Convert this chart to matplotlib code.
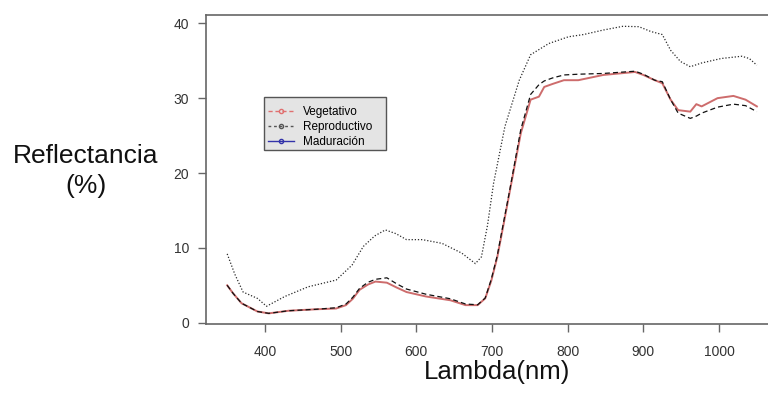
import matplotlib
matplotlib.use("Agg")
import matplotlib.pyplot as plt
import matplotlib.patches as mpatches
from matplotlib.lines import Line2D

plt.rcParams["font.family"] = ["Liberation Sans", "DejaVu Sans"]

# upper dotted curve
wl_up = [350, 360, 371, 390, 402, 426, 457, 494, 515, 530, 545, 559, 573, 587, 608, 634, 660,
         678, 686, 694, 702, 717, 736, 751, 775, 801, 821, 847, 873, 894, 910, 925,
         936, 949, 962, 977, 1003, 1030, 1040, 1050]
r_up = [9.2, 6.5, 4.1, 3.25, 2.2, 3.5, 4.8, 5.7, 7.7, 10.2, 11.6, 12.4, 11.9, 11.1, 11.1, 10.6, 9.3,
        7.9, 8.8, 13.0, 18.6, 26.2, 32.4, 35.8, 37.3, 38.2, 38.5, 39.1, 39.6, 39.55, 38.9, 38.5,
        36.4, 34.9, 34.2, 34.7, 35.3, 35.6, 35.3, 34.4]

# lower curves
wl = [350, 358, 369, 390, 405, 431, 468, 494, 507, 516, 525, 536, 546, 561, 574, 587, 613, 645, 665,
      681, 691, 699, 707, 715, 723, 738, 751, 762, 769, 780, 795, 814, 847, 889, 900, 915, 925,
      936, 946, 962, 970, 977, 998, 1019, 1035, 1050]
r_veg = [5.0, 3.9, 2.6, 1.5, 1.25, 1.6, 1.8, 1.9, 2.35, 3.2, 4.4, 5.1, 5.5, 5.35, 4.7, 4.1, 3.5, 3.0, 2.35,
         2.35, 3.25, 5.6, 8.8, 13.0, 17.3, 25.3, 29.8, 30.2, 31.5, 31.9, 32.4, 32.4, 33.1, 33.5, 33.1, 32.4, 32.0,
         29.8, 28.4, 28.2, 29.2, 28.9, 30.0, 30.3, 29.8, 28.9]
r_rep = [5.0, 3.9, 2.6, 1.5, 1.25, 1.6, 1.8, 2.0, 2.5, 3.4, 4.6, 5.4, 5.8, 6.0, 5.2, 4.5, 3.8, 3.2, 2.5,
         2.4, 3.3, 5.8, 9.0, 13.3, 17.5, 25.8, 30.5, 31.8, 32.3, 32.7, 33.1, 33.2, 33.3, 33.6, 33.2, 32.4, 32.2,
         29.8, 28.0, 27.3, 27.6, 28.0, 28.8, 29.2, 29.0, 28.2]

labels = ["Vegetativo", "Reproductivo", "Maduración"]
xticks = [400, 500, 600, 700, 800, 900, 1000]
yticks = [0, 10, 20, 30, 40]

W, H = 768, 394
fig = plt.figure(figsize=(W / 100, H / 100), dpi=100)
ax = fig.add_axes([206 / W, (H - 324.3) / H, (772 - 206) / W, (324.3 - 14.7) / H])

ax.plot(wl_up, r_up, color="#2a2a2a", lw=0.9, linestyle=(0, (1, 1.5)))
ax.plot(wl, r_veg, color="#c85c5c", lw=1.4, alpha=0.9)
ax.plot(wl, r_rep, color="#111111", lw=0.9, linestyle=(0, (4, 2.5)))

ax.set_xlim(322, 1070)
ax.set_ylim(-0.21, 41.15)
ax.set_xticks(xticks)
ax.set_yticks(yticks)
for s in ax.spines.values():
    s.set_color("#666666")
    s.set_linewidth(1.2)
ax.tick_params(axis="both", direction="out", length=6, width=1, color="#666666",
               labelsize=10, labelcolor="#333333")
ax.tick_params(axis="x", pad=9)
ax.tick_params(axis="y", pad=6)

# legend box
fig.patches.append(mpatches.Rectangle((264 / W, 1 - 150 / H), (386 - 264) / W, (150 - 97) / H,
                                      transform=fig.transFigure, facecolor="#e4e4e4",
                                      edgecolor="#555555", lw=1, zorder=5))
handles = [
    Line2D([], [], color="#e07070", lw=1, ls=(0, (3, 2)), marker="o", ms=3,
           mfc="none", mec="#e07070"),
    Line2D([], [], color="#555555", lw=1, ls=(0, (2, 2)), marker="o", ms=3,
           mfc="none", mec="#555555"),
    Line2D([], [], color="#3333aa", lw=1, marker="o", ms=3, mfc="none", mec="#3333aa"),
]
leg = fig.legend(handles, labels, loc="upper left", bbox_to_anchor=(268 / W, 1 - 106 / H),
                 bbox_transform=fig.transFigure, frameon=False, fontsize=8.5,
                 borderpad=0, borderaxespad=0, handlelength=2.2, handletextpad=0.8,
                 labelspacing=0.25)
leg.set_zorder(6)

fig.text(86 / W, 1 - 171 / H, "Reflectancia\n(%)", ha="center", va="center",
         fontsize=19, linespacing=1.3, color="#111111")
fig.text(497 / W, 1 - 372 / H, "Lambda(nm)", ha="center", va="center",
         fontsize=18.5, color="#111111")

fig.savefig("out.png", dpi=100)
